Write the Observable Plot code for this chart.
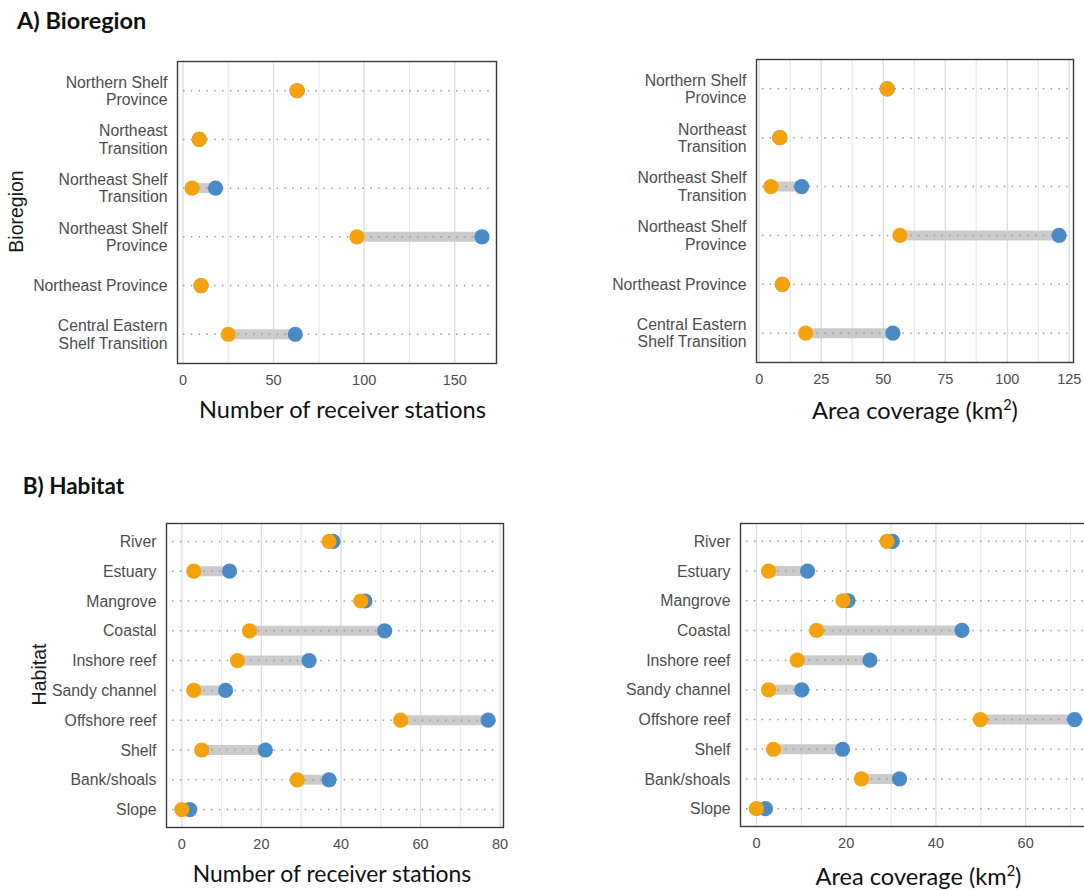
<!DOCTYPE html>
<html><head><meta charset="utf-8">
<script src="https://cdn.jsdelivr.net/npm/d3@7"></script>
<script src="https://cdn.jsdelivr.net/npm/@observablehq/plot@0.6"></script>
<style>
html,body{margin:0;padding:0;background:#fff;}
#wrap{position:relative;width:1084px;height:890px;overflow:hidden;background:#fff;}
#wrap > svg.panel{position:absolute;}
#overlay{position:absolute;left:0;top:0;pointer-events:none;}
</style></head><body><div id="wrap"></div>
<script>
// ---------- data ----------
const bioregions = ["Northern Shelf\nProvince","Northeast\nTransition","Northeast Shelf\nTransition","Northeast Shelf\nProvince","Northeast Province","Central Eastern\nShelf Transition"];
const bioStationsOrange = [63, 9, 5, 96, 10, 25];
const bioStationsBlue   = [63, 9, 18, 165, 10, 62];
const bioAreaOrange = [51.6, 8.3, 4.7, 56.7, 9.3, 18.7];
const bioAreaBlue   = [51.6, 8.3, 17.1, 120.9, 9.3, 53.9];

const habitats = ["River","Estuary","Mangrove","Coastal","Inshore reef","Sandy channel","Offshore reef","Shelf","Bank/shoals","Slope"];
const habStationsOrange = [37, 3, 45, 17, 14, 3, 55, 5, 29, 0];
const habStationsBlue   = [38, 12, 46, 51, 32, 11, 77, 21, 37, 2];
const habAreaOrange = [29.1, 2.7, 19.3, 13.4, 9.1, 2.7, 49.9, 3.8, 23.4, 0];
const habAreaBlue   = [30.3, 11.4, 20.4, 45.8, 25.3, 10.1, 70.9, 19.2, 31.9, 2.0];

const bioStationTicks = [0, 50, 100, 150];
const bioStationMinor = [25, 75, 125];
const bioAreaTicks = [0, 25, 50, 75, 100, 125];
const bioAreaMinor = [12.5, 37.5, 62.5, 87.5, 112.5];
const habStationTicks = [0, 20, 40, 60, 80];
const habStationMinor = [10, 30, 50, 70];
const habAreaTicks = [0, 20, 40, 60];
const habAreaMinor = [10, 30, 50, 70];

const ORANGE = "#F5A30C";
const BLUE = "#4A8AC6";

const wrap = document.getElementById("wrap");

function panel(cats, lo, hi, ticks, minor, frame, box) {
  const rows = cats.map((c, i) => ({cat: c, lo: lo[i], hi: hi[i]}));
  const all = lo.concat(hi);
  const mn = d3.min(all), mx = d3.max(all), r = mx - mn;
  const [fx0, fx1, fy0, fy1] = frame;
  const [sx, sy, W, H] = box;
  const svg = Plot.plot({
    width: W, height: H,
    marginLeft: fx0 - sx, marginRight: sx + W - fx1,
    marginTop: fy0 - sy, marginBottom: sy + H - fy1,
    style: {fontFamily: "'Liberation Sans', Arial, sans-serif", background: "transparent"},
    x: {domain: [mn - 0.05 * r, mx + 0.05 * r]},
    y: {type: "point", domain: cats, padding: 0.6, round: false},
    marks: [
      Plot.ruleX(minor, {stroke: "#e8e8e8", strokeWidth: 1.2}),
      Plot.ruleX(ticks, {stroke: "#dcdcdc", strokeWidth: 1.3}),
      Plot.ruleY(rows, {y: "cat", x1: "lo", x2: "hi", stroke: "#cbcbcb", strokeWidth: 10}),
      Plot.ruleY(cats, {stroke: "#9c9c9c", strokeWidth: 1.5, strokeDasharray: "1.5,6.3", insetLeft: 6, insetRight: 5}),
      Plot.dot(rows, {x: "hi", y: "cat", r: 7.6, fill: BLUE}),
      Plot.dot(rows, {x: "lo", y: "cat", r: 7.6, fill: ORANGE}),
      Plot.frame({stroke: "#3a3a3a", strokeWidth: 1.4}),
      Plot.axisX({ticks, tickSize: 0, tickPadding: 11, fontSize: 14.5, color: "#4d4d4d", label: null}),
      Plot.axisY({tickSize: 0, tickPadding: 10, fontSize: 15.8, lineHeight: 1.1, color: "#4d4d4d", label: null})
    ]
  });
  svg.classList.add("panel");
  svg.style.left = sx + "px";
  svg.style.top = sy + "px";
  svg.style.maxWidth = "none";
  wrap.appendChild(svg);
}

panel(bioregions, bioStationsOrange, bioStationsBlue, bioStationTicks, bioStationMinor, [177, 496, 61, 363], [0, 45, 520, 350]);
panel(bioregions, bioAreaOrange, bioAreaBlue, bioAreaTicks, bioAreaMinor, [756, 1073, 59, 362], [560, 45, 524, 349]);
panel(habitats, habStationsOrange, habStationsBlue, habStationTicks, habStationMinor, [166, 503, 523, 827], [0, 505, 530, 354]);
panel(habitats, habAreaOrange, habAreaBlue, habAreaTicks, habAreaMinor, [740, 1090, 523, 826], [560, 505, 540, 353]);

// ---------- titles ----------
const ov = d3.select(wrap).append("svg").attr("id", "overlay").attr("width", 1084).attr("height", 890);
const titleFont = "Lato, 'Open Sans', sans-serif";
ov.append("text").attr("x", 17).attr("y", 29.3).attr("font-family", titleFont).attr("font-weight", 700).attr("font-size", 23.5).attr("fill", "#111").text("A) Bioregion");
ov.append("text").attr("x", 22.7).attr("y", 494.3).attr("font-family", titleFont).attr("font-weight", 700).attr("font-size", 22.5).attr("fill", "#111").text("B) Habitat");

function xTitle(x, y, size, parts) {
  const t = ov.append("text").attr("x", x).attr("y", y).attr("text-anchor", "middle")
    .attr("font-family", titleFont).attr("font-size", size).attr("fill", "#111");
  t.append("tspan").text(parts[0]);
  if (parts[1]) {
    t.append("tspan").attr("font-size", size * 0.62).attr("dy", -9).text(parts[1]);
    t.append("tspan").attr("dy", 9).text(parts[2]);
  }
}
xTitle(342.5, 418, 23.6, ["Number of receiver stations"]);
xTitle(915, 419, 23.6, ["Area coverage (km", "2", ")"]);
xTitle(332, 881.7, 22.9, ["Number of receiver stations"]);
xTitle(918.5, 885, 23.6, ["Area coverage (km", "2", ")"]);

function yTitle(x, y, s) {
  ov.append("text").attr("transform", `translate(${x},${y}) rotate(-90)`).attr("text-anchor", "middle")
    .attr("font-family", "'Liberation Sans', Arial, sans-serif").attr("font-size", 19.5).attr("fill", "#1a1a1a").text(s);
}
yTitle(22.7, 211.5, "Bioregion");
yTitle(45.7, 674.5, "Habitat");
</script></body></html>
